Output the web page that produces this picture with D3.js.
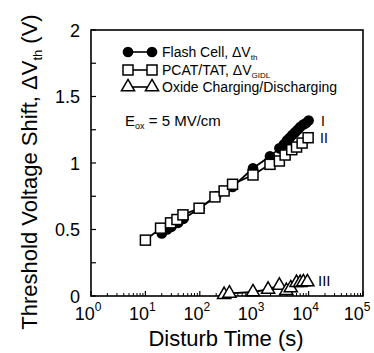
<!DOCTYPE html>
<html><head><meta charset="utf-8">
<script src="https://cdn.jsdelivr.net/npm/d3@7"></script>
<style>body{margin:0;background:#fff;} text{font-family:"Liberation Sans",Arial,sans-serif;fill:#000;}</style>
</head><body><svg id="c" width="374" height="353"></svg>
<script>
const flashT = [20,25,30,40,50,100,200,400,950,1950,2900,3500,4000,4500,5000,5600,6300,7000,8000,9000,10000];
const flashV = [0.47,0.50,0.52,0.55,0.58,0.66,0.75,0.82,0.96,1.05,1.11,1.14,1.17,1.19,1.21,1.23,1.25,1.27,1.29,1.30,1.32];
const pcatT = [10,19,29,38,49,97,190,280,400,950,1950,2900,3700,4900,6000,7600,9800];
const pcatV = [0.42,0.51,0.55,0.575,0.61,0.66,0.745,0.79,0.84,0.91,0.99,1.015,1.06,1.10,1.12,1.15,1.19];
const oxT = [280,350,950,1800,2900,3900,4700,6000,7000,8000,9500];
const oxV = [0.01,0.02,0.03,0.05,0.08,0.04,0.06,0.10,0.10,0.105,0.105];
const xTicks = [1,10,100,1000,10000,100000];
const yTicks = [0,0.5,1,1.5,2];
const legendLabels = ["Flash Cell, ΔV","PCAT/TAT, ΔV","Oxide Charging/Discharging"];

const svg = d3.select("#c");
const L=91,R=363,T=30,B=296;
const x = d3.scaleLog().domain([1,1e5]).range([L,R]);
const y = d3.scaleLinear().domain([0,2]).range([B,T]);

svg.append("rect").attr("x",L).attr("y",T).attr("width",R-L).attr("height",B-T)
  .attr("fill","none").attr("stroke","#000").attr("stroke-width",1.6);

// x minor ticks
const minor=[];
for(let d=1; d<1e5; d*=10) for(let k=2;k<=9;k++) minor.push(d*k);
svg.append("g").selectAll("line").data(minor).join("line")
  .attr("x1",d=>x(d)).attr("x2",d=>x(d)).attr("y1",B).attr("y2",B-3)
  .attr("stroke","#000").attr("stroke-width",1);
svg.append("g").selectAll("line").data(xTicks).join("line")
  .attr("x1",d=>x(d)).attr("x2",d=>x(d)).attr("y1",B).attr("y2",B-5)
  .attr("stroke","#000").attr("stroke-width",1.2);
const xl = svg.append("g").selectAll("text").data(xTicks).join("text")
  .attr("x",(d,i)=>x(d)-3-(i===xTicks.length-1?3:0)).attr("y",B+24).attr("text-anchor","middle").attr("font-size",18);
xl.append("tspan").text("10");
xl.append("tspan").attr("font-size",12).attr("dy",-9).text(d=>Math.round(Math.log10(d)));

// y ticks
const yAll=d3.range(0,2.01,0.25);
svg.append("g").selectAll("line").data(yAll).join("line")
  .attr("x1",L).attr("x2",L+5).attr("y1",d=>y(d)).attr("y2",d=>y(d))
  .attr("stroke","#000").attr("stroke-width",1.2);
svg.append("g").selectAll("text").data(yTicks).join("text")
  .attr("x",L-11).attr("y",d=>y(d)+6.5).attr("text-anchor","end").attr("font-size",18)
  .text(d=>d);

// axis titles
svg.append("text").attr("x",226).attr("y",346).attr("text-anchor","middle").attr("font-size",22)
  .text("Disturb Time (s)");
const yt = svg.append("text").attr("transform",`translate(37,172) rotate(-90)`)
  .attr("text-anchor","middle").attr("font-size",22);
yt.append("tspan").text("Threshold Voltage Shift, ΔV");
yt.append("tspan").attr("font-size",13).attr("dy",5).text("th");
yt.append("tspan").attr("dy",-5).text(" (V)");

const line = d3.line().x(d=>x(d[0])).y(d=>y(d[1]));
const flash = d3.zip(flashT,flashV), pcat=d3.zip(pcatT,pcatV), ox=d3.zip(oxT,oxV);

const tri = d3.symbol().type(d3.symbolTriangle).size(75);
function drawSeries(data, type){
  svg.append("path").attr("d",line(data)).attr("fill","none").attr("stroke","#000").attr("stroke-width",1.8);
  const g=svg.append("g");
  data.forEach(d=>marker(g,x(d[0]),y(d[1]),type));
}
function marker(g,cx,cy,type){
  if(type==="c") g.append("circle").attr("cx",cx).attr("cy",cy).attr("r",5.3).attr("fill","#000");
  else if(type==="s") g.append("rect").attr("x",cx-5).attr("y",cy-5).attr("width",10).attr("height",10)
      .attr("fill","#fff").attr("stroke","#000").attr("stroke-width",1.5);
  else g.append("path").attr("d",tri()).attr("transform",`translate(${cx},${cy})`)
      .attr("fill","#fff").attr("stroke","#000").attr("stroke-width",1.5);
}
drawSeries(ox,"t");
drawSeries(flash,"c");
drawSeries(pcat,"s");

// legend
const ly=[52,70,87], types=["c","s","t"];
const lg=svg.append("g");
ly.forEach((yy,i)=>{
  lg.append("line").attr("x1",128).attr("x2",152).attr("y1",yy).attr("y2",yy).attr("stroke","#000").attr("stroke-width",1.6);
  marker(lg,128,yy,types[i]); marker(lg,152,yy,types[i]);
  const t=lg.append("text").attr("x",162).attr("y",yy+5).attr("font-size",14);
  t.append("tspan").text(legendLabels[i]);
  if(i===0) t.append("tspan").attr("font-size",8).attr("dy",3).text("th");
  if(i===1) t.append("tspan").attr("font-size",8).attr("dy",3).text("GIDL");
});

const e=svg.append("text").attr("x",125).attr("y",126).attr("font-size",15);
e.append("tspan").text("E");
e.append("tspan").attr("font-size",9).attr("dy",3).text("ox");
e.append("tspan").attr("dy",-3).text(" = 5 MV/cm");

svg.append("text").attr("x",321).attr("y",126).attr("font-size",14).attr("font-family","Liberation Serif").text("I");
svg.append("text").attr("x",320).attr("y",143).attr("font-size",14).attr("font-family","Liberation Serif").text("II");
svg.append("text").attr("x",318).attr("y",286).attr("font-size",15).attr("font-family","Liberation Serif").text("III");
</script></body></html>
